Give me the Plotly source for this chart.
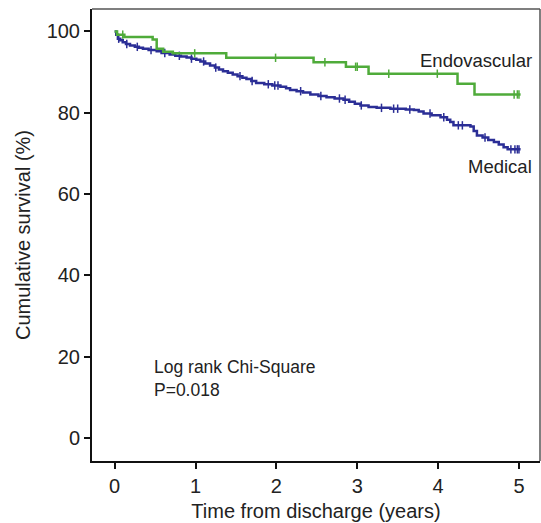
import plotly.graph_objects as go
import numpy as np

# ---- Data ----
medical_t = [0, 0.02, 0.04, 0.07, 0.10, 0.14, 0.19, 0.25, 0.30, 0.35, 0.42, 0.52, 0.58, 0.68,
             0.75, 0.82, 0.89, 0.95, 1.01, 1.06, 1.12, 1.18, 1.24, 1.29, 1.34, 1.40, 1.46, 1.52,
             1.58, 1.63, 1.69, 1.75, 1.85, 1.95, 2.05, 2.12, 2.17, 2.25, 2.33, 2.42, 2.52, 2.62,
             2.72, 2.83, 2.90, 2.97, 3.04, 3.14, 3.24, 3.41, 3.60, 3.70, 3.76, 3.82, 3.92, 4.03,
             4.11, 4.15, 4.19, 4.40, 4.44, 4.48, 4.55, 4.62, 4.69, 4.75, 4.81, 4.86, 5.02]
medical_s = [100, 99.2, 98.2, 97.8, 97.3, 96.9, 96.5, 96.2, 96.0, 95.7, 95.4, 95.1, 94.7, 94.3,
             94.0, 93.8, 93.6, 93.3, 93.0, 92.6, 92.1, 91.6, 91.1, 90.6, 90.2, 89.8, 89.4, 89.0,
             88.6, 88.3, 87.8, 87.3, 87.0, 86.7, 86.4, 86.0, 85.6, 85.3, 85.0, 84.5, 84.1, 83.8,
             83.5, 83.2, 82.7, 82.2, 81.8, 81.4, 81.2, 81.0, 80.8, 80.7, 80.3, 79.8, 79.4, 78.9,
             78.3, 77.7, 76.9, 76.6, 75.5, 74.4, 73.9, 73.3, 72.8, 72.2, 71.5, 71.0, 71.0]
medical_censor = [0.05, 0.15, 0.28, 0.45, 0.62, 0.80, 0.95, 1.10, 1.25, 1.55, 1.70, 1.90, 1.98,
                  2.02, 2.30, 2.55, 2.78, 2.85, 3.05, 3.30, 3.45, 3.50, 3.65, 3.90, 4.07, 4.25,
                  4.30, 4.58, 4.90, 4.95, 4.98, 5.00]

endo_t = [0, 0.03, 0.12, 0.47, 0.52, 0.60, 0.72, 1.38, 2.46, 2.86, 3.14, 4.24, 4.45, 5.02]
endo_s = [100, 99.2, 98.6, 98.0, 95.7, 95.0, 94.6, 93.5, 92.4, 91.3, 89.6, 87.1, 84.5, 84.5]
endo_censor = [0.10, 0.99, 1.99, 2.60, 2.98, 3.00, 3.39, 3.99, 4.94, 4.98, 5.00]

x_ticks = [0, 1, 2, 3, 4, 5]
y_ticks = [0, 20, 40, 60, 80, 100]

GREEN = "#4fab3a"
BLUE = "#2b2e96"
FONT = "Liberation Sans, Arial, Helvetica, sans-serif"


def step_value(times, surv, t):
    idx = np.searchsorted(np.array(times), t, side="right") - 1
    return surv[max(idx, 0)]


fig = go.Figure()

for t, s, cens, col, name in [(medical_t, medical_s, medical_censor, BLUE, "Medical"),
                              (endo_t, endo_s, endo_censor, GREEN, "Endovascular")]:
    fig.add_trace(go.Scatter(x=t, y=s, mode="lines", line=dict(color=col, width=2.5, shape="hv"),
                             name=name, showlegend=False, hoverinfo="skip"))
    fig.add_trace(go.Scatter(x=cens, y=[step_value(t, s, c) for c in cens], mode="markers",
                             marker=dict(symbol="line-ns", size=6, line=dict(color=col, width=1.5)),
                             showlegend=False, hoverinfo="skip"))

ann_font = dict(family=FONT, size=18.5, color="#222")
fig.add_annotation(x=5.18, y=92.8, text="Endovascular", showarrow=False, xanchor="right",
                   yanchor="middle", font=ann_font)
fig.add_annotation(x=5.18, y=66.9, text="Medical", showarrow=False, xanchor="right",
                   yanchor="middle", font=ann_font)
fig.add_annotation(x=0.46, y=17.4, text="Log rank Chi-Square", showarrow=False, xanchor="left",
                   yanchor="middle", font=dict(family=FONT, size=17.5, color="#222"))
fig.add_annotation(x=0.46, y=11.85, text="P=0.018", showarrow=False, xanchor="left",
                   yanchor="middle", font=dict(family=FONT, size=17.5, color="#222"))

# top and right frame lines (thinner, grey)
fig.add_shape(type="line", xref="paper", yref="paper", x0=0, x1=1, y0=1, y1=1,
              line=dict(color="#555", width=1.5))
fig.add_shape(type="line", xref="paper", yref="paper", x0=1, x1=1, y0=0, y1=1,
              line=dict(color="#555", width=1.5))

tick_font = dict(family=FONT, size=20, color="#222")
fig.update_layout(
    width=541, height=523,
    margin=dict(l=92, r=1, t=9, b=62),
    paper_bgcolor="white", plot_bgcolor="white",
    font=dict(family=FONT, color="#222"),
    xaxis=dict(range=[-0.28, 5.26], tickvals=x_ticks, ticktext=[str(v) for v in x_ticks],
               showgrid=False, zeroline=False, showline=True, linecolor="#111", linewidth=2,
               ticks="outside", ticklen=6, tickwidth=1.5, tickcolor="#111", tickfont=tick_font,
               title=dict(text="Time from discharge (years)", font=dict(family=FONT, size=20, color="#222"),
                          standoff=8)),
    yaxis=dict(range=[-5.6, 105.5], tickvals=y_ticks, ticktext=[str(v) for v in y_ticks],
               showgrid=False, zeroline=False, showline=True, linecolor="#111", linewidth=2,
               ticks="outside", ticklen=6, tickwidth=1.5, tickcolor="#111", tickfont=tick_font,
               title=dict(text="Cumulative survival (%)", font=dict(family=FONT, size=20, color="#222"),
                          standoff=11)),
)

fig.write_html("out.html", config={"displayModeBar": False},
               post_script="document.body.style.margin='0';")
